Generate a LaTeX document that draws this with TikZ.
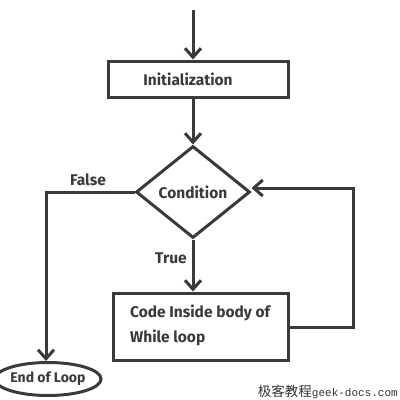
\documentclass[tikz,border=0pt]{standalone}
\usepackage{fontspec}
\setmainfont{Fira Sans}
\newfontfamily\cjkfont{Noto Sans CJK SC}
\newfontfamily\wmmono{Liberation Mono}
\usetikzlibrary{shapes.geometric,arrows.meta}
\definecolor{ink}{HTML}{3A3A3A}
\tikzset{
  flow/.style={draw=ink, line width=3pt, text=ink, font=\bfseries\fontsize{15.5}{18}\selectfont},
  procbox/.style={flow, rectangle, inner sep=0pt},
  decide/.style={flow, diamond, inner sep=0pt, minimum width=114pt, minimum height=92pt},
  term/.style={flow, ellipse, inner sep=0pt, minimum width=86pt, minimum height=33pt, font=\bfseries\fontsize{14}{16}\selectfont},
  conn/.style={draw=ink, line width=3pt, -{Straight Barb[length=9pt,width=16pt,line width=3pt]}},
  lbl/.style={text=ink, font=\bfseries\fontsize{15.5}{18}\selectfont, inner sep=0pt}
}
\begin{document}
\begin{tikzpicture}[x=1pt,y=-1pt]
\useasboundingbox (0,0) rectangle (400,400);
\fill[white] (0,0) rectangle (400,400);
\coordinate (start) at (193,10);
\node[procbox, minimum width=180pt, minimum height=36pt] (init) at (198,79) {};
\node[lbl] (initt) at (188,79) {Initialization};
\node[decide] (cond) at (193,192) {Condition};
\node[procbox, minimum width=175pt, minimum height=67pt] (body) at (200.5,326.5) {};
\node[lbl, align=left, anchor=west, font=\bfseries\fontsize{15.5}{25}\selectfont] (bodyt) at (130,325.5) {Code Inside body of\\While loop};
\node[term] (end) at (48,379) {End of Loop};
\coordinate (fl) at (46,192);
\coordinate (lr) at (353,327);
\coordinate (lu) at (353,188);
\node[lbl] (false) at (88,180) {False};
\node[lbl] (true) at (171,258) {True};
\draw[conn] (start) -- (init.north -| start);
\draw[conn] (init.south -| cond.north) -- (cond.north);
\draw[conn] (cond.south) -- (cond.south |- body.north);
\draw[conn] (cond.west) -- (fl) -- (end.north -| fl);
\draw[conn] (body.east |- lr) -- (lr) -- (lu) -- (cond.east |- lu);
\node[inner sep=0pt, anchor=east, text=black!80] (wm) at (398,392) {{\cjkfont\fontsize{13.5}{15}\selectfont 极客教程}{\wmmono\fontsize{11}{12}\selectfont geek-docs.com}};
\end{tikzpicture}
\end{document}
